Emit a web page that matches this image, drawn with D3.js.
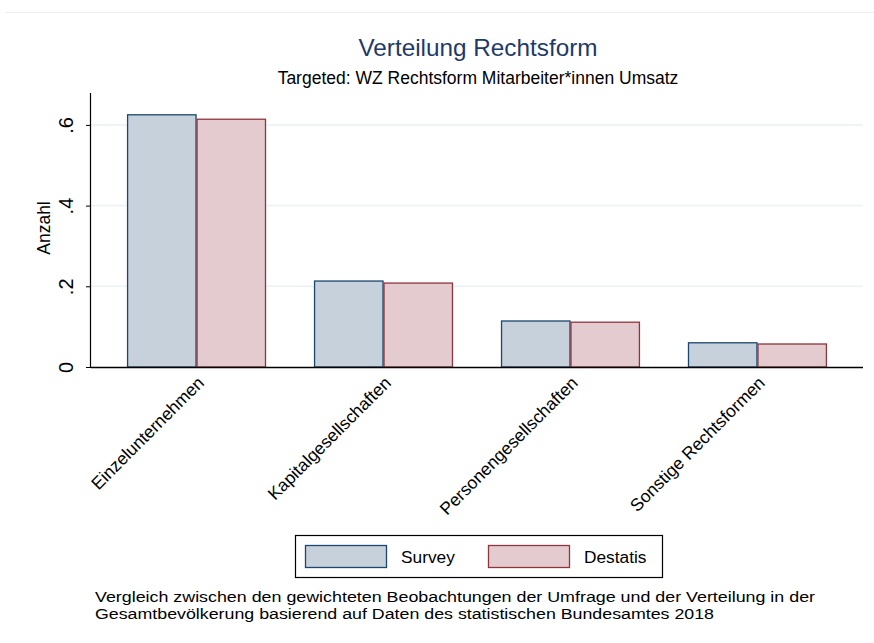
<!DOCTYPE html>
<html><head><meta charset="utf-8">
<script src="https://cdn.jsdelivr.net/npm/d3@7"></script>
<style>body{margin:0;background:#fff}svg{display:block;font-family:"Liberation Sans",Arial,sans-serif}</style>
</head><body><svg id="c" width="874" height="643"></svg>
<script>
const categories = ["Einzelunternehmen","Kapitalgesellschaften","Personengesellschaften","Sonstige Rechtsformen"];
const seriesNames = ["Survey","Destatis"];
const survey = [0.625, 0.213, 0.114, 0.060];
const destatis = [0.614, 0.208, 0.111, 0.057];
const yTicks = [0, 0.2, 0.4, 0.6];
const yTickLabels = ["0", ".2", ".4", ".6"];
const fills = ["#c6d1dc", "#e3cbcf"];
const strokes = ["#1a476f", "#90353b"];

(function(){
const svg = d3.select("#c");
const pL = 91, pR = 863, pT = 93, pB = 367;
const x = d3.scaleBand().domain(categories).range([pL, pR]).paddingInner(0.257).paddingOuter(0.193);
const xs = d3.scaleBand().domain(seriesNames).range([0, x.bandwidth()]);
const y = d3.scaleLinear().domain([0, 0.679]).range([pB, pT]);

svg.append("line").attr("x1",5).attr("x2",874).attr("y1",12.5).attr("y2",12.5).attr("stroke","#eeeeee");

svg.append("g").selectAll("line").data(yTicks.slice(1)).join("line")
  .attr("x1", pL).attr("x2", pR).attr("y1", d=>y(d)).attr("y2", d=>y(d))
  .attr("stroke", "#eaf2f3").attr("stroke-width", 1.5);

const data = [survey, destatis];
seriesNames.forEach((s, si) => {
  svg.append("g").selectAll("rect").data(categories).join("rect")
    .attr("x", c => x(c) + xs(s) + 0.5)
    .attr("width", xs.bandwidth() - 1)
    .attr("y", (c, i) => y(data[si][i]))
    .attr("height", (c, i) => y(0) - y(data[si][i]))
    .attr("fill", fills[si]).attr("stroke", strokes[si]).attr("stroke-width", 1.3);
});

const ya = svg.append("g").attr("transform", `translate(${pL},0)`)
  .call(d3.axisLeft(y).tickValues(yTicks).tickFormat((d,i)=>yTickLabels[i]).tickSize(5).tickPadding(0));
ya.select(".domain").attr("d", `M-0.5,${pT}V${pB}`).attr("stroke","#000").attr("stroke-width",1.2);
ya.selectAll(".tick line").attr("stroke","#000").attr("x2",-5);
ya.selectAll(".tick text").attr("font-size", 20).attr("fill","#000")
  .attr("text-anchor","middle").attr("transform", "translate(-25,0) rotate(-90)").attr("dy","0.35em").attr("x",0);

const xa = svg.append("g").attr("transform", `translate(0,${pB})`)
  .call(d3.axisBottom(x).tickSize(0).tickSizeOuter(0).tickPadding(0));
xa.select(".domain").attr("d", `M${pL},0.5H${pR}`).attr("stroke","#000").attr("stroke-width",1.5);
xa.selectAll(".tick text").attr("font-size", 17.5).attr("fill","#000")
  .attr("text-anchor","end").attr("dy","0").attr("y",0)
  .attr("transform","translate(8.5,17) rotate(-45)");

svg.append("text").attr("transform","translate(50,228) rotate(-90)").attr("text-anchor","middle")
  .attr("font-size",17.5).attr("fill","#000").text("Anzahl");

svg.append("text").attr("x",478).attr("y",56).attr("text-anchor","middle").attr("font-size",24.3)
  .attr("fill","#1e3a6a").text("Verteilung Rechtsform");
svg.append("text").attr("x",478).attr("y",84).attr("text-anchor","middle").attr("font-size",17.5)
  .attr("fill","#000").text("Targeted: WZ Rechtsform Mitarbeiter*innen Umsatz");

const lg = svg.append("g");
lg.append("rect").attr("x",295.5).attr("y",535.5).attr("width",367).attr("height",42)
  .attr("fill","#fff").attr("stroke","#000").attr("stroke-width",1.2);
const lx = [305, 488];
seriesNames.forEach((s, i) => {
  lg.append("rect").attr("x",lx[i]+0.5).attr("y",545.5).attr("width",81).attr("height",22)
    .attr("fill",fills[i]).attr("stroke",strokes[i]).attr("stroke-width",1.3);
  lg.append("text").attr("x",lx[i]+96).attr("y",563).attr("font-size",17.3).attr("fill","#000").text(s);
});

const note = ["Vergleich zwischen den gewichteten Beobachtungen der Umfrage und der Verteilung in der",
              "Gesamtbevölkerung basierend auf Daten des statistischen Bundesamtes 2018"];
const noteLen = [720, 619];
svg.append("g").selectAll("text").data(note).join("text")
  .attr("x",95).attr("y",(d,i)=>602+i*17).attr("font-size",15.5)
  .attr("textLength",(d,i)=>noteLen[i]).attr("lengthAdjust","spacingAndGlyphs")
  .attr("fill","#000").text(d=>d);
})();
</script></body></html>
